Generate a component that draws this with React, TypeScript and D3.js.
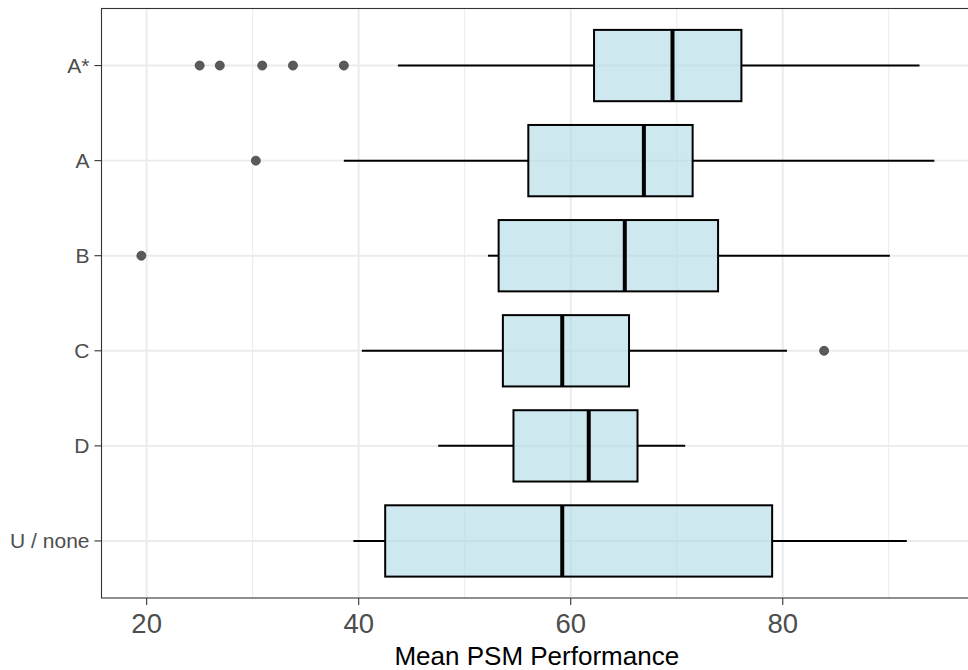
import React from "react";
import * as d3 from "d3";

const categories = ["A*", "A", "B", "C", "D", "U / none"];
const whiskerLow = [43.7, 38.6, 52.2, 40.3, 47.5, 39.5];
const q1 = [62.2, 56.0, 53.2, 53.6, 54.6, 42.5];
const medians = [69.6, 66.9, 65.1, 59.2, 61.7, 59.2];
const q3 = [76.1, 71.5, 73.9, 65.5, 66.3, 79.0];
const whiskerHigh = [92.9, 94.3, 90.1, 80.4, 70.8, 91.7];
const outliers: [string, number][] = [
  ["A*", 25.0], ["A*", 26.9], ["A*", 30.9], ["A*", 33.8], ["A*", 38.6],
  ["A", 30.3],
  ["B", 19.5],
  ["C", 83.9],
];
const xTicks = [20, 40, 60, 80];
const xMinor = [30, 50, 70, 90];
const xTitle = "Mean PSM Performance";

const W = 968, H = 670;
const left = 101.5, top = 8.5, bottom = 598;

export default function App() {
  const x = d3.scaleLinear().domain([15.74, 98.04]).range([left, 974]);
  const y = d3.scalePoint<string>().domain(categories).range([top, bottom]).padding(0.6);
  const band = (bottom - top) / (categories.length - 1 + 1.2);
  const bh = band * 0.75;
  const rows = categories.map((c, i) => ({
    c, lo: whiskerLow[i], q1: q1[i], med: medians[i], q3: q3[i], hi: whiskerHigh[i],
  }));
  return (
    <svg width={W} height={H} style={{ position: "fixed", left: 0, top: 0, background: "#fff" }}
      fontFamily="'Liberation Sans', Arial, sans-serif">
      <rect x={0} y={0} width={W} height={H} fill="#fff" />
      {/* grid */}
      {xMinor.map((t) => (
        <line key={"m" + t} x1={x(t)} x2={x(t)} y1={top} y2={bottom} stroke="#EBEBEB" strokeWidth={1} />
      ))}
      {xTicks.map((t) => (
        <line key={"g" + t} x1={x(t)} x2={x(t)} y1={top} y2={bottom} stroke="#EBEBEB" strokeWidth={1.9} />
      ))}
      {categories.map((c) => (
        <line key={"gy" + c} x1={left} x2={W} y1={y(c)} y2={y(c)} stroke="#EBEBEB" strokeWidth={1.9} />
      ))}
      {/* boxes */}
      {rows.map((r) => {
        const cy = y(r.c)!;
        return (
          <g key={r.c}>
            <line x1={x(r.lo)} x2={x(r.q1)} y1={cy} y2={cy} stroke="#000" strokeWidth={2} />
            <line x1={x(r.q3)} x2={x(r.hi)} y1={cy} y2={cy} stroke="#000" strokeWidth={2} />
            <rect x={x(r.q1)} y={cy - bh / 2} width={x(r.q3) - x(r.q1)} height={bh}
              fill="lightblue" fillOpacity={0.6} stroke="#000" strokeWidth={2} />
            <line x1={x(r.med)} x2={x(r.med)} y1={cy - bh / 2} y2={cy + bh / 2} stroke="#000" strokeWidth={4} />
          </g>
        );
      })}
      {outliers.map(([c, v], i) => (
        <circle key={"o" + i} cx={x(v)} cy={y(c)} r={4.5} fill="#5A5A5A" stroke="#444" strokeWidth={0.8} />
      ))}
      {/* panel border */}
      <rect x={left} y={top} width={974 - left} height={bottom - top} fill="none" stroke="#333" strokeWidth={1.1} />
      {/* x axis ticks */}
      {xTicks.map((t) => (
        <g key={"t" + t}>
          <line x1={x(t)} x2={x(t)} y1={bottom} y2={bottom + 7} stroke="#333" strokeWidth={1.1} />
          <text x={x(t)} y={632.5} textAnchor="middle" fontSize={27.5} fill="#4D4D4D">{t}</text>
        </g>
      ))}
      {/* y axis ticks */}
      {categories.map((c) => (
        <g key={"yt" + c}>
          <line x1={left - 7} x2={left} y1={y(c)} y2={y(c)} stroke="#333" strokeWidth={1.1} />
          <text x={89.5} y={y(c)! + 7.5} textAnchor="end" fontSize={21} fill="#4D4D4D">{c}</text>
        </g>
      ))}
      <text x={(394.3 + 679.3) / 2} y={665} textAnchor="middle" fontSize={26} fill="#000">{xTitle}</text>
    </svg>
  );
}
